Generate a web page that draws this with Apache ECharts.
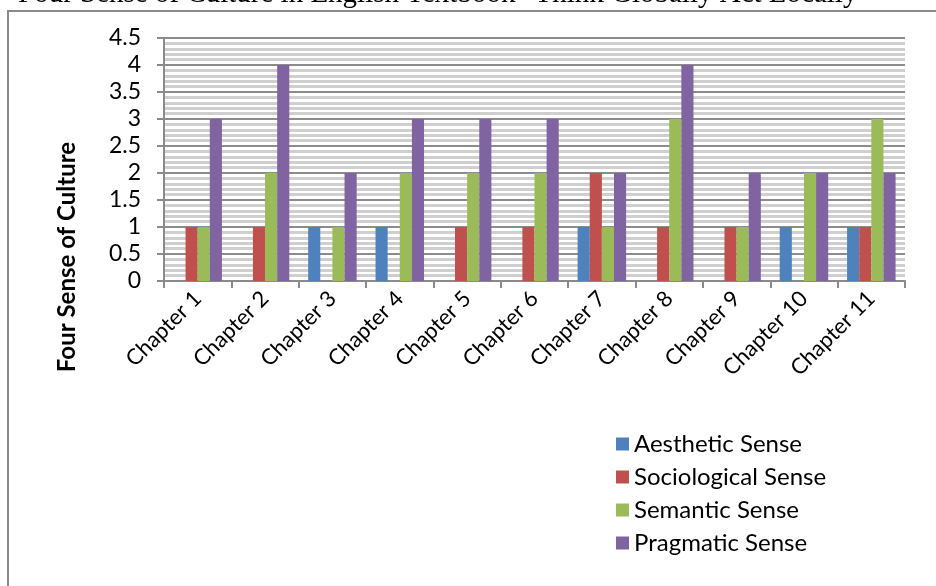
<!DOCTYPE html>
<html>
<head>
<meta charset="utf-8">
<script src="https://cdn.jsdelivr.net/npm/echarts@6/dist/echarts.min.js"></script>
<style>
  html, body { margin: 0; padding: 0; background: #fff; }
  #chart { width: 936px; height: 586px; }
</style>
</head>
<body>
<div id="chart"></div>
<script>
const chapters = ['Chapter 1', 'Chapter 2', 'Chapter 3', 'Chapter 4', 'Chapter 5', 'Chapter 6',
  'Chapter 7', 'Chapter 8', 'Chapter 9', 'Chapter 10', 'Chapter 11']
const aesthetic = [0, 0, 1, 1, 0, 0, 1, 0, 0, 1, 1]
const sociological = [1, 1, 0, 0, 1, 1, 2, 1, 1, 0, 1]
const semantic = [1, 2, 1, 2, 2, 2, 1, 3, 1, 2, 3]
const pragmatic = [3, 4, 2, 3, 3, 3, 2, 4, 2, 2, 2]

const font = 'Lato, "Open Sans", sans-serif'

const bar = (name, data, color) => ({
  name: name,
  type: 'bar',
  data: data,
  barGap: '0%',
  barCategoryGap: '28%',
  itemStyle: { color: color },
})

const options = {
  animation: false,
  backgroundColor: '#fff',
  graphic: [
    {
      type: 'rect',
      shape: { x: 8, y: 11, width: 960, height: 620 },
      style: { fill: 'none', stroke: '#8a8a8a', lineWidth: 2 },
    },
    {
      type: 'text',
      x: 18,
      y: -20,
      style: {
        text: 'Four Sense of Culture in English Textbook "Think Globally Act Locally"',
        font: '29px "Liberation Serif", serif',
        fill: '#000',
      },
    },
    {
      type: 'text',
      x: 55,
      y: 257,
      rotation: Math.PI / 2,
      style: {
        text: 'Four Sense of Culture',
        font: 'bold 24px ' + font,
        fill: '#000',
        align: 'center',
        verticalAlign: 'top',
      },
    },
  ],
  legend: {
    orient: 'vertical',
    left: 611,
    top: 427,
    icon: 'rect',
    itemWidth: 13,
    itemHeight: 13,
    itemGap: 9,
    textStyle: { fontFamily: font, fontSize: 24, color: '#000' },
    data: ['Aesthetic Sense', 'Sociological Sense', 'Semantic Sense', 'Pragmatic Sense'],
  },
  grid: { left: 164, right: 31, top: 38, bottom: 305 },
  xAxis: {
    type: 'category',
    data: chapters,
    axisLine: { lineStyle: { color: '#8a8a8a', width: 2 } },
    axisTick: { show: true, length: 7, lineStyle: { color: '#8a8a8a', width: 2 } },
    axisLabel: {
      rotate: 45,
      margin: 14,
      interval: 0,
      fontFamily: font,
      fontSize: 22,
      color: '#000',
    },
  },
  yAxis: {
    type: 'value',
    min: 0,
    max: 4.5,
    interval: 0.5,
    axisLine: { show: true, lineStyle: { color: '#8a8a8a', width: 2 } },
    axisTick: { show: true, length: 7, lineStyle: { color: '#8a8a8a', width: 2 } },
    axisLabel: { margin: 23, fontFamily: font, fontSize: 23, color: '#000' },
    splitLine: { lineStyle: { color: '#8c8c8c', width: 2 } },
    minorTick: { show: false, splitNumber: 5 },
    minorSplitLine: { show: true, lineStyle: { color: '#cfcfcf', width: 3 } },
  },
  series: [
    bar('Aesthetic Sense', aesthetic, '#4f81bd'),
    bar('Sociological Sense', sociological, '#c0504d'),
    bar('Semantic Sense', semantic, '#9bbb59'),
    bar('Pragmatic Sense', pragmatic, '#8064a2'),
  ],
}

const chart = echarts.init(document.getElementById('chart'))
chart.setOption(options)
window.onresize = function () {
  chart.resize()
}
</script>
</body>
</html>
